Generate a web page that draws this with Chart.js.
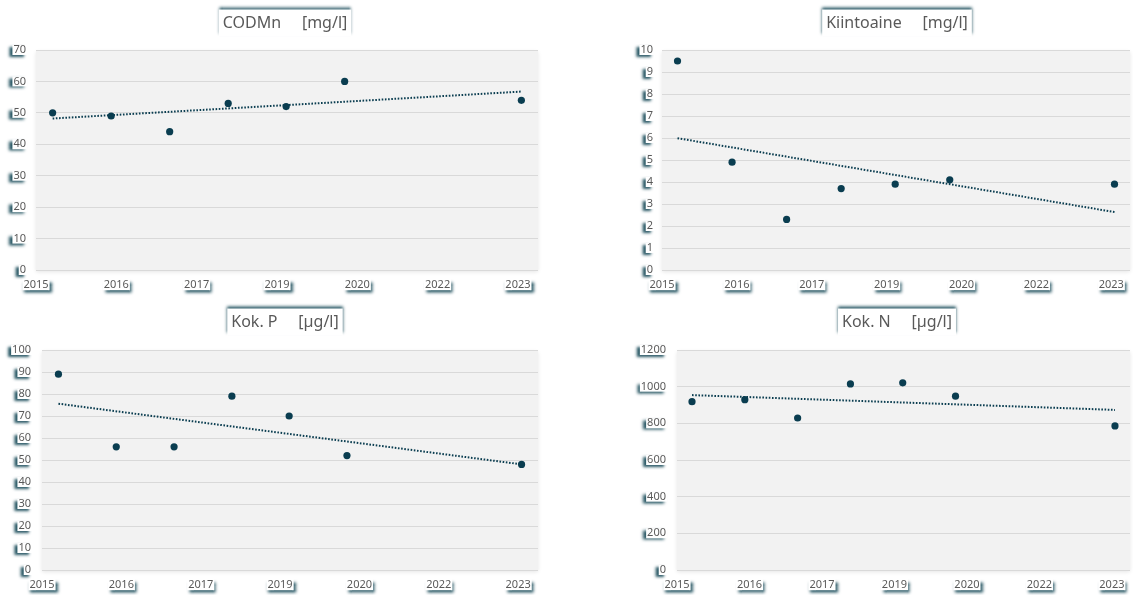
<!DOCTYPE html>
<html>
<head>
<meta charset="utf-8">
<script src="https://cdn.jsdelivr.net/npm/chart.js@4.4.1/dist/chart.umd.min.js"></script>
<style>
  html, body { margin: 0; padding: 0; background: #fff; overflow: hidden; width: 1133px; height: 595px; }
  .cell { position: absolute; }
  canvas { display: block; }
</style>
</head>
<body>
<div class="cell" style="left:0px;top:0px;"><canvas id="c1" width="566" height="298"></canvas></div>
<div class="cell" style="left:566px;top:0px;"><canvas id="c2" width="568" height="298"></canvas></div>
<div class="cell" style="left:0px;top:298px;"><canvas id="c3" width="566" height="297"></canvas></div>
<div class="cell" style="left:566px;top:298px;"><canvas id="c4" width="568" height="297"></canvas></div>
<script>
// ---- Data ----
const sampleDates = [2015.29, 2016.31, 2017.33, 2018.35, 2019.36, 2020.38, 2023.46]; // decimal years
const xTickLabels = ['2015', '2016', '2017', '2019', '2020', '2022', '2023'];
const X_START = 2015.0;
const X_STEP = 1.4;
const X_SPAN_STEPS = 6.25;

const codmn      = [50, 49, 44, 53, 52, 60, 54];
const kiintoaine = [9.5, 4.9, 2.3, 3.7, 3.9, 4.1, 3.9];
const kokP       = [89, 56, 56, 79, 70, 52, 48];
const kokN       = [918, 929, 829, 1015, 1021, 948, 786];

const titles = ['CODMn     [mg/l]', 'Kiintoaine     [mg/l]', 'Kok. P     [µg/l]', 'Kok. N     [µg/l]'];
const yMaxes = [70, 10, 100, 1200];
const ySteps = [10, 1, 10, 200];

// ---- Style ----
const MARK = '#0a3d50';
const TXT = '#595959';
const FONT = '"Noto Sans", "Liberation Sans", sans-serif';

function linReg(xs, ys) {
  const n = xs.length;
  const mx = xs.reduce((a, b) => a + b, 0) / n;
  const my = ys.reduce((a, b) => a + b, 0) / n;
  let sxx = 0, sxy = 0;
  for (let i = 0; i < n; i++) { sxx += (xs[i] - mx) ** 2; sxy += (xs[i] - mx) * (ys[i] - my); }
  const b = sxy / sxx;
  return x => my + b * (x - mx);
}

const decor = {
  id: 'decor',
  beforeDraw(chart, args, o) {
    const { ctx, chartArea: a } = chart;
    // plot area background
    ctx.save();
    ctx.shadowColor = 'rgba(0,0,0,0.10)';
    ctx.shadowBlur = 4;
    ctx.shadowOffsetY = 2;
    ctx.fillStyle = '#f2f2f2';
    ctx.fillRect(a.left, a.top, a.right - a.left, a.bottom - a.top);
    ctx.restore();

    const box = (x, y, w, h, ox, oy) => {
      ctx.save();
      ctx.shadowColor = 'rgba(28,78,92,0.95)';
      ctx.shadowBlur = 3;
      ctx.shadowOffsetX = ox;
      ctx.shadowOffsetY = oy;
      ctx.fillStyle = '#ffffff';
      ctx.fillRect(x, y, w, h);
      ctx.restore();
    };

    ctx.save();
    ctx.font = '11px ' + FONT;
    const ys = chart.scales.y, xs = chart.scales.x;
    ys.ticks.forEach((t, i) => {
      const py = ys.getPixelForTick(i);
      const w = ctx.measureText(t.label).width;
      const right = a.left - o.yPad;
      box(right - w - 1, py - 5, w + 2, 10, -3, 2);
    });
    xs.ticks.forEach((t, i) => {
      const px = xs.getPixelForTick(i);
      const w = ctx.measureText(t.label).width;
      const cy = a.bottom + o.xPad + 6.6;
      box(px - w / 2 - 1, cy - 5.7, w + 2, 11.4, 2, 3);
    });
    ctx.restore();

    // title
    ctx.save();
    ctx.font = '16px ' + FONT;
    const tw = ctx.measureText(o.title).width;
    box(o.cx - tw / 2 - 4, o.cy - 14, tw + 8, 27, 0, -3);
    ctx.fillStyle = TXT;
    ctx.textAlign = 'center';
    ctx.textBaseline = 'middle';
    ctx.fillText(o.title, o.cx, o.cy);
    ctx.restore();
  }
};

function makeChart(id, idx, values, L) {
  const f = linReg(sampleDates, values);
  const x0 = sampleDates[0], xn = sampleDates[sampleDates.length - 1];
  new Chart(document.getElementById(id), {
    type: 'scatter',
    data: {
      datasets: [
        {
          data: sampleDates.map((x, i) => ({ x, y: values[i] })),
          pointRadius: 3.6,
          pointBackgroundColor: MARK,
          pointBorderWidth: 0,
          showLine: false
        },
        {
          data: [{ x: x0, y: f(x0) }, { x: xn, y: f(xn) }],
          showLine: true,
          borderColor: MARK,
          borderWidth: 2,
          borderDash: [1.6, 1.6],
          pointRadius: 0
        }
      ]
    },
    options: {
      responsive: false,
      animation: false,
      events: [],
      layout: { padding: { left: 0, right: L.right, top: L.top, bottom: 0 } },
      plugins: {
        legend: { display: false },
        tooltip: { enabled: false },
        title: { display: false },
        decor: { title: titles[idx], cx: L.cx, cy: L.cy, yPad: L.yPad, xPad: 8 }
      },
      scales: {
        x: {
          type: 'linear',
          min: X_START,
          max: X_START + X_SPAN_STEPS * X_STEP,
          afterBuildTicks: s => { s.ticks = xTickLabels.map((_, i) => ({ value: X_START + i * X_STEP })); },
          afterFit: s => { s.height = L.xh; },
          grid: { display: false, drawTicks: false },
          border: { display: false },
          ticks: {
            autoSkip: false, maxRotation: 0, padding: 8,
            color: TXT, font: { family: FONT, size: 11 },
            callback: (v, i) => xTickLabels[i]
          }
        },
        y: {
          min: 0,
          max: yMaxes[idx],
          afterFit: s => { s.width = L.yw; },
          grid: { color: '#d9d9d9', lineWidth: 1, drawTicks: false },
          border: { display: false },
          ticks: {
            stepSize: ySteps[idx], padding: L.yPad,
            color: TXT, font: { family: FONT, size: 11 },
            callback: v => String(v)
          }
        }
      }
    },
    plugins: [decor]
  });
}

makeChart('c1', 0, codmn,      { yw: 36,  right: 28, top: 50, xh: 28, yPad: 10, cx: 285, cy: 23.5 });
makeChart('c2', 1, kiintoaine, { yw: 96,  right: 0,  top: 50, xh: 28, yPad: 9,  cx: 331, cy: 23.5 });
makeChart('c3', 2, kokP,       { yw: 42,  right: 28, top: 52, xh: 25, yPad: 11, cx: 285, cy: 24.5 });
makeChart('c4', 3, kokN,       { yw: 111, right: 0,  top: 52, xh: 25, yPad: 11, cx: 331, cy: 24.5 });
</script>
</body>
</html>
